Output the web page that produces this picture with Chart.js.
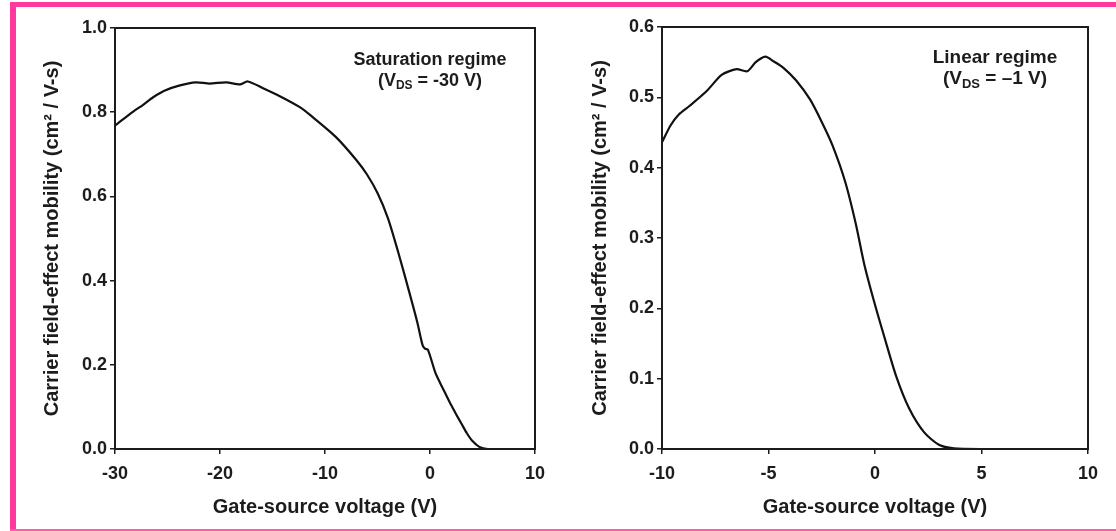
<!DOCTYPE html>
<html>
<head>
<meta charset="utf-8">
<script src="https://cdn.jsdelivr.net/npm/chart.js@4/dist/chart.umd.min.js"></script>
<style>
  html, body { margin: 0; padding: 0; background: #fff; }
  #wrap { position: relative; width: 1116px; height: 531px; overflow: hidden; background: #fff; }
  canvas { position: absolute; top: 0; }
  #satChart { left: 0; }
  #linChart { left: 560px; }
  .edge { position: absolute; z-index: 2; }
  #edgeTop { left: 10px; top: 2px; width: 1106px; height: 5px; background: #ff3a9e; }
  #edgeLeft { left: 10px; top: 2px; width: 6px; height: 529px; background: #ff3a9e; }
  #edgeBottom { left: 10px; top: 529px; width: 1106px; height: 2px; background: #ff5cb0; }
</style>
</head>
<body>
<div id="wrap">
  <canvas id="satChart" width="560" height="531"></canvas>
  <canvas id="linChart" width="556" height="531"></canvas>
  <div class="edge" id="edgeTop"></div>
  <div class="edge" id="edgeLeft"></div>
  <div class="edge" id="edgeBottom"></div>
</div>
<script>
// Saturation regime, VDS = -30 V
const satVgs = [-30, -29.7, -28.3, -27.35, -26.4, -25.3, -23.9, -22.3, -21.0, -19.4, -18.1, -17.35,
  -15.9, -14.3, -12.4, -11.4, -9.0, -7.0, -6.0, -5.0, -4.0, -3.0, -2.0, -1.2, -0.7, -0.45, -0.2,
  0.5, 1.0, 1.5, 2.0, 2.5, 3.0, 3.5, 4.0, 4.7, 5.5, 8.0, 10];
const satMobility = [0.768, 0.774, 0.801, 0.817, 0.835, 0.851, 0.863, 0.871, 0.868, 0.871, 0.866, 0.873,
  0.857, 0.838, 0.812, 0.793, 0.742, 0.686, 0.652, 0.608, 0.548, 0.465, 0.375, 0.300, 0.246, 0.238, 0.236,
  0.182, 0.155, 0.130, 0.105, 0.082, 0.060, 0.038, 0.020, 0.005, 0, 0, 0];

// Linear regime, VDS = -1 V
const linVgs = [-10, -9.6, -9.2, -8.7, -7.9, -7.2, -6.5, -6.0, -5.6, -5.15, -4.75, -4.3, -3.7,
  -3.05, -2.5, -2.0, -1.4, -0.9, -0.5, 0.0, 0.5, 1.0, 1.6, 2.3, 3.0, 3.7, 5, 10];
const linMobility = [0.436, 0.46, 0.476, 0.488, 0.509, 0.532, 0.540, 0.537, 0.550, 0.558, 0.551, 0.542, 0.524,
  0.497, 0.465, 0.432, 0.38, 0.32, 0.262, 0.205, 0.153, 0.103, 0.058, 0.024, 0.006, 0.001, 0, 0];

const satXTicks = [-30, -20, -10, 0, 10];
const satYTicks = [0, 0.2, 0.4, 0.6, 0.8, 1.0];
const linXTicks = [-10, -5, 0, 5, 10];
const linYTicks = [0, 0.1, 0.2, 0.3, 0.4, 0.5, 0.6];

const INK = '#1c1c1c';
const FONT = "'Liberation Sans', Arial, sans-serif";

// box around the plot area (top and right sides included)
const frameBox = {
  id: 'frameBox',
  afterDatasetsDraw(chart) {
    const { ctx, chartArea: a } = chart;
    ctx.save();
    ctx.strokeStyle = INK;
    ctx.lineWidth = 2;
    ctx.strokeRect(a.left, a.top, a.right - a.left, a.bottom - a.top);
    ctx.restore();
  }
};

// "regime" note in the upper right, with V subscript DS
const regimeNote = {
  id: 'regimeNote',
  afterDraw(chart, args, opts) {
    const ctx = chart.ctx;
    const big = 'bold ' + opts.size + 'px ' + FONT;
    const small = 'bold ' + Math.round(opts.size * 0.68) + 'px ' + FONT;
    ctx.save();
    ctx.fillStyle = INK;
    ctx.textBaseline = 'middle';
    ctx.textAlign = 'center';
    ctx.font = big;
    ctx.fillText(opts.title, opts.cx, opts.cy);

    const parts = [
      { t: '(V', f: big, dy: 0 },
      { t: 'DS', f: small, dy: 5 },
      { t: ' = ' + opts.vds + ' V)', f: big, dy: 0 }
    ];
    let total = 0;
    parts.forEach(p => { ctx.font = p.f; p.w = ctx.measureText(p.t).width; total += p.w; });
    let x = opts.cx - total / 2;
    ctx.textAlign = 'left';
    parts.forEach(p => {
      ctx.font = p.f;
      ctx.fillText(p.t, x, opts.cy + 21 + p.dy);
      x += p.w;
    });
    ctx.restore();
  }
};

function makeChart(id, xs, ys, xTicks, yTicks, xMin, xMax, yMax, pad, yWidth, titlePad, note) {
  const points = xs.map((x, i) => ({ x: x, y: ys[i] }));
  const tickFont = { family: FONT, size: 18, weight: 'bold' };
  const titleFont = { family: FONT, size: 20, weight: 'bold' };
  return new Chart(document.getElementById(id), {
    type: 'line',
    data: {
      datasets: [{
        data: points,
        borderColor: '#111',
        borderWidth: 2.2,
        pointRadius: 0,
        tension: 0.25,
        fill: false
      }]
    },
    options: {
      responsive: false,
      animation: false,
      layout: { padding: pad },
      plugins: {
        legend: { display: false },
        tooltip: { enabled: false },
        regimeNote: note
      },
      scales: {
        x: {
          type: 'linear',
          min: xMin,
          max: xMax,
          afterBuildTicks: s => { s.ticks = xTicks.map(v => ({ value: v })); },
          afterFit: s => { s.height = 82; },
          grid: { drawOnChartArea: false, tickLength: 5, color: INK, lineWidth: 1.5 },
          border: { color: INK, width: 2 },
          ticks: { color: INK, font: tickFont, padding: 9, maxRotation: 0, callback: v => String(v) },
          title: {
            display: true,
            text: 'Gate-source voltage (V)',
            color: INK,
            font: titleFont,
            padding: { top: 0, bottom: 12 }
          }
        },
        y: {
          min: 0,
          max: yMax,
          afterBuildTicks: s => { s.ticks = yTicks.map(v => ({ value: v })); },
          afterFit: s => { s.width = yWidth; },
          grid: { drawOnChartArea: false, tickLength: 5, color: INK, lineWidth: 1.5 },
          border: { color: INK, width: 2 },
          ticks: { color: INK, font: tickFont, padding: 3, callback: v => Number(v).toFixed(1) },
          title: {
            display: true,
            text: 'Carrier field-effect mobility (cm² / V-s)',
            color: INK,
            font: titleFont,
            padding: { top: titlePad, bottom: 0 }
          }
        }
      }
    },
    plugins: [frameBox, regimeNote]
  });
}

makeChart('satChart', satVgs, satMobility, satXTicks, satYTicks, -30, 10, 1.0,
  { left: 0, right: 25, top: 28, bottom: 0 }, 115, 40,
  { title: 'Saturation regime', vds: '-30', cx: 430, cy: 60, size: 18 });

makeChart('linChart', linVgs, linMobility, linXTicks, linYTicks, -10, 10, 0.6,
  { left: 0, right: 28, top: 27, bottom: 0 }, 102, 28,
  { title: 'Linear regime', vds: '–1', cx: 435, cy: 58, size: 19 });
</script>
</body>
</html>
